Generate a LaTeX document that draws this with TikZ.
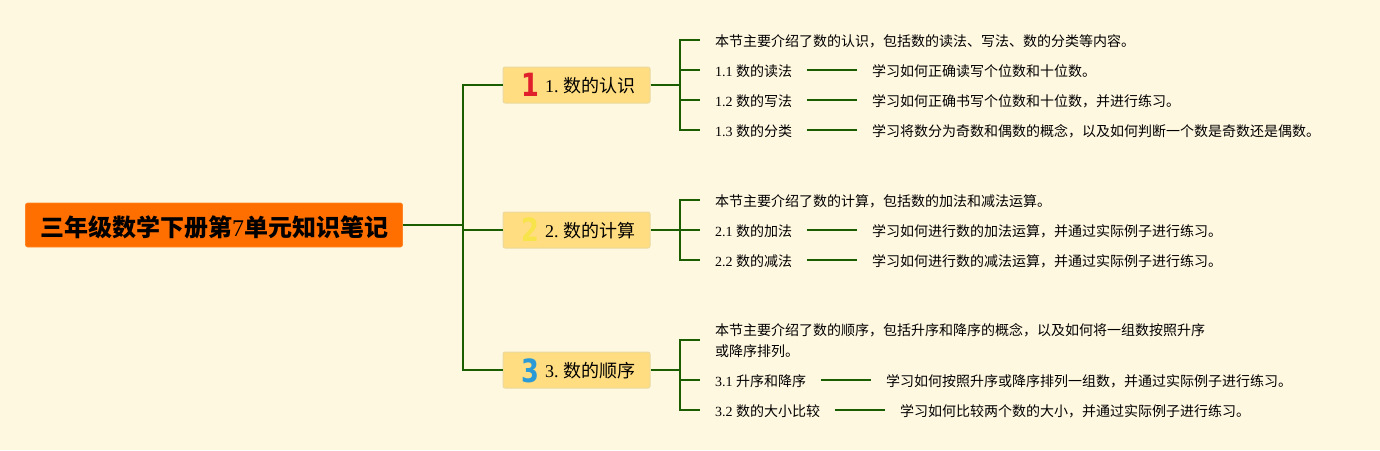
\documentclass[tikz,border=0pt]{standalone}
\usepackage{fontspec}
\setmainfont{Liberation Serif}
\newfontfamily\cjk{Noto Sans CJK SC}
\newfontfamily\badgefont{DejaVu Sans}
\usetikzlibrary{positioning}
\definecolor{pagebg}{HTML}{FFF8E1}
\definecolor{rootfill}{HTML}{FF6F00}
\definecolor{topicfill}{HTML}{FFDD80}
\definecolor{topicline}{HTML}{EBD9A0}
\definecolor{linkgreen}{HTML}{1B5E00}
\definecolor{badgered}{HTML}{E0202A}
\definecolor{badgeyellow}{HTML}{F7E34A}
\definecolor{badgeblue}{HTML}{2A9BD6}

\begin{document}
\begin{tikzpicture}[
  x=1pt,y=-1pt,
  root/.style={rectangle,rounded corners=2pt,draw=rootfill!85!white,fill=rootfill,line width=0.6pt,minimum width=377pt,minimum height=44pt,inner sep=0pt,text height=25pt,text depth=3pt,font=\fontsize{24}{28}\selectfont\bfseries},
  topic/.style={rectangle,rounded corners=2pt,draw=topicline,fill=topicfill,line width=1pt,text width=117pt,align=right,inner xsep=15pt,inner ysep=0pt,minimum height=36pt,text height=18.6pt,text depth=3pt,font=\fontsize{18}{22}\selectfont},
  leaf/.style={anchor=west,inner xsep=15pt,inner ysep=1pt,align=left,font=\fontsize{14}{21}\selectfont},
  detail/.style={inner xsep=14.5pt,inner ysep=1pt,font=\fontsize{14}{21}\selectfont},
  badge/.style={inner sep=0pt,xscale=0.8,font=\fontsize{32}{32}\selectfont\badgefont\bfseries},
  link/.style={draw=linkgreen,line width=2pt}
]
  \fill[pagebg] (0,0) rectangle (1380,450);
  \useasboundingbox (0,0) rectangle (1380,450);

  \node[root] (root) at (214,225) {\cjk 三年级数学下册第{\rmfamily\mdseries 7}单元知识笔记};

  \node[topic] (t1) at (576.5,85) {1.\hspace{4.5pt}{\cjk 数的认识}};
  \node[topic] (t2) at (576.5,230) {2.\hspace{4.5pt}{\cjk 数的计算}};
  \node[topic] (t3) at (576.5,370) {3.\hspace{4.5pt}{\cjk 数的顺序}};

  \node[badge,text=badgered] (b1) at (530,85) {1};
  \node[badge,text=badgeyellow] (b2) at (530,230) {2};
  \node[badge,text=badgeblue] (b3) at (530,371) {3};

  \coordinate (trunk) at (463,225);
  \coordinate (hub1) at (680,85);
  \coordinate (hub2) at (680,230);
  \coordinate (hub3) at (680,370);

  % first topic
  \node[leaf] (n1) at (700,41) {\cjk 本节主要介绍了数的认识，包括数的读法、写法、数的分类等内容。};
  \node[leaf] (l11) at (700,71) {1.1 {\cjk 数的读法}};
  \node[leaf] (l12) at (700,101) {1.2 {\cjk 数的写法}};
  \node[leaf] (l13) at (700,131) {1.3 {\cjk 数的分类}};
  \node[detail,right=50pt of l11] (d11) {\cjk 学习如何正确读写个位数和十位数。};
  \node[detail,right=50pt of l12] (d12) {\cjk 学习如何正确书写个位数和十位数，并进行练习。};
  \node[detail,right=50pt of l13] (d13) {\cjk 学习将数分为奇数和偶数的概念，以及如何判断一个数是奇数还是偶数。};

  % second topic
  \node[leaf] (n2) at (700,201) {\cjk 本节主要介绍了数的计算，包括数的加法和减法运算。};
  \node[leaf] (l21) at (700,231) {2.1 {\cjk 数的加法}};
  \node[leaf] (l22) at (700,261) {2.2 {\cjk 数的减法}};
  \node[detail,right=50pt of l21] (d21) {\cjk 学习如何进行数的加法运算，并通过实际例子进行练习。};
  \node[detail,right=50pt of l22] (d22) {\cjk 学习如何进行数的减法运算，并通过实际例子进行练习。};

  % third topic
  \node[leaf] (n3) at (700,341) {\cjk 本节主要介绍了数的顺序，包括升序和降序的概念，以及如何将一组数按照升序\\\cjk 或降序排列。};
  \node[leaf] (l31) at (700,381) {3.1 {\cjk 升序和降序}};
  \node[leaf] (l32) at (700,411) {3.2 {\cjk 数的大小比较}};
  \node[detail,right=50pt of l31] (d31) {\cjk 学习如何按照升序或降序排列一组数，并通过实际例子进行练习。};
  \node[detail,right=50pt of l32] (d32) {\cjk 学习如何比较两个数的大小，并通过实际例子进行练习。};

  \draw[link] (root.east) -- (trunk);
  \draw[link] (trunk) |- (t1.west);
  \draw[link] (trunk) |- (t2.west);
  \draw[link] (trunk) |- (t3.west);

  \draw[link] (t1.east) -- (hub1);
  \draw[link] (hub1) |- ([yshift=1pt]n1.west);
  \draw[link] (hub1) |- ([yshift=1pt]l11.west);
  \draw[link] (hub1) |- ([yshift=1pt]l12.west);
  \draw[link] (hub1) |- ([yshift=1pt]l13.west);
  \draw[link] ([yshift=1pt]l11.east) -- ([yshift=1pt]d11.west);
  \draw[link] ([yshift=1pt]l12.east) -- ([yshift=1pt]d12.west);
  \draw[link] ([yshift=1pt]l13.east) -- ([yshift=1pt]d13.west);

  \draw[link] (t2.east) -- (hub2);
  \draw[link] (hub2) |- ([yshift=1pt]n2.west);
  \draw[link] (hub2) |- ([yshift=1pt]l21.west);
  \draw[link] (hub2) |- ([yshift=1pt]l22.west);
  \draw[link] ([yshift=1pt]l21.east) -- ([yshift=1pt]d21.west);
  \draw[link] ([yshift=1pt]l22.east) -- ([yshift=1pt]d22.west);

  \draw[link] (t3.east) -- (hub3);
  \draw[link] (hub3) |- ([yshift=1pt]n3.west);
  \draw[link] (hub3) |- ([yshift=1pt]l31.west);
  \draw[link] (hub3) |- ([yshift=1pt]l32.west);
  \draw[link] ([yshift=1pt]l31.east) -- ([yshift=1pt]d31.west);
  \draw[link] ([yshift=1pt]l32.east) -- ([yshift=1pt]d32.west);
\end{tikzpicture}
\end{document}
